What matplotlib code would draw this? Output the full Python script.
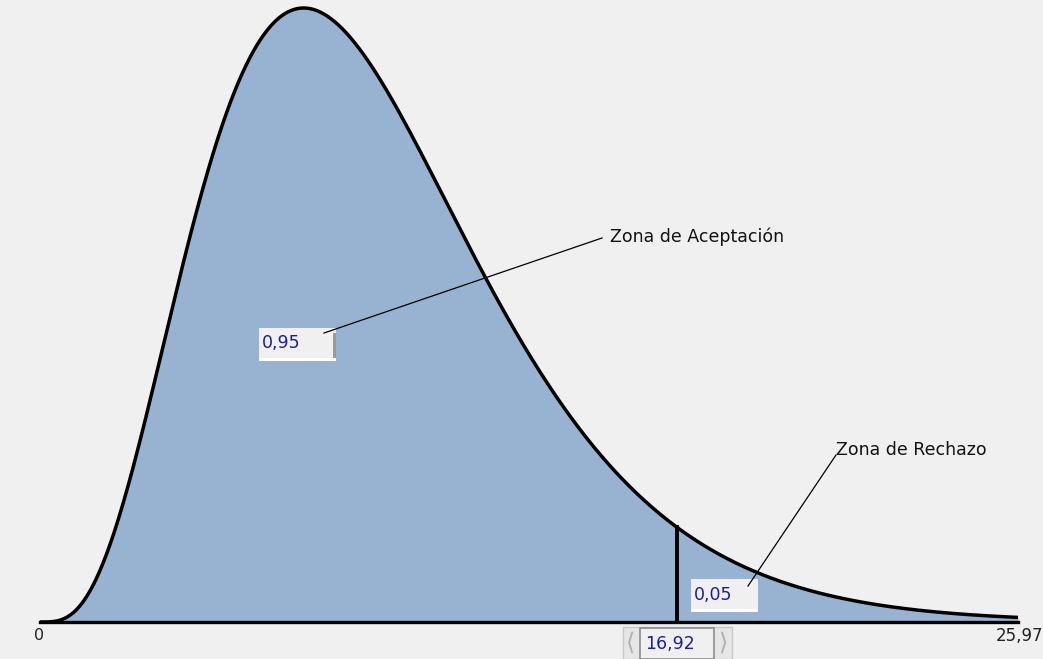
import math
import numpy as np
import matplotlib
matplotlib.use("Agg")
import matplotlib.pyplot as plt
from matplotlib.patches import Rectangle

# chart values
dof = 9
x_max = 25.97
critical = 16.92
p_accept = "0,95"
p_reject = "0,05"
label_left = "0"
label_right = "25,97"
label_crit = "16,92"
zone_accept = "Zona de Aceptación"
zone_reject = "Zona de Rechazo"

W, H = 1043, 659
BG = "#f0f0f0"
FILL = "#98b3d2"
NAVY = "#1c1ca0"
FS = 12.5


def chi2_pdf(x, k):
    x = np.asarray(x, dtype=float)
    out = np.zeros_like(x)
    m = x > 0
    out[m] = x[m] ** (k / 2 - 1) * np.exp(-x[m] / 2) / (2 ** (k / 2) * math.gamma(k / 2))
    return out


def fx(px):
    return px / W


def fy(py):
    return 1 - py / H


fig = plt.figure(figsize=(W / 100, H / 100), dpi=100, facecolor=BG)

xs = np.linspace(0, x_max, 800)
ys = chi2_pdf(xs, dof)
peak = ys.max()

ax = fig.add_axes([fx(40), fy(622), fx(1018) - fx(40), fy(8) - fy(622)])
ax.set_facecolor(BG)
ax.fill_between(xs, 0, ys, color=FILL, lw=0)
ax.plot(xs, ys, color="black", lw=2.5, clip_on=False, solid_capstyle="butt")
ax.plot([0, x_max], [0, 0], color="black", lw=2.4, clip_on=False)
ax.plot([critical, critical], [0, chi2_pdf([critical], dof)[0]], color="black", lw=2.8)
ax.set_xlim(0, x_max)
ax.set_ylim(0, peak)
ax.axis("off")

# axis end labels
fig.text(fx(39), fy(636), label_left, ha="center", va="center", fontsize=FS - 1, color="#222222",
         family="DejaVu Sans")
fig.text(fx(1043), fy(636), label_right, ha="right", va="center", fontsize=FS - 0.5, color="#222222",
         family="DejaVu Sans")


def value_box(x0, y0, x1, y1, text):
    fig.patches.append(Rectangle((fx(x0), fy(y1)), fx(x1) - fx(x0), fy(y0) - fy(y1),
                                 transform=fig.transFigure, facecolor=BG, edgecolor="none"))
    # bottom white strip
    fig.patches.append(Rectangle((fx(x0), fy(y1)), fx(x1) - fx(x0), fy(y1 - 3) - fy(y1),
                                 transform=fig.transFigure, facecolor="white", edgecolor="none"))
    fig.text(fx(x0 + 3), fy((y0 + y1) / 2 - 1), text, ha="left", va="center", fontsize=FS,
             color=NAVY, family="DejaVu Sans")


value_box(259, 328, 336, 361, p_accept)
fig.patches.append(Rectangle((fx(333), fy(358)), fx(336) - fx(333), fy(333) - fy(358),
                             transform=fig.transFigure, facecolor="#9a9a9a", edgecolor="none"))
value_box(691, 579, 758, 612, p_reject)

# critical value spinner
fig.patches.append(Rectangle((fx(623), fy(659)), fx(732) - fx(623), fy(627) - fy(659),
                             transform=fig.transFigure, facecolor="#e6e6e6", edgecolor="#c8c8c8", lw=1))
fig.patches.append(Rectangle((fx(640), fy(659)), fx(714) - fx(640), fy(628) - fy(659),
                             transform=fig.transFigure, facecolor=BG, edgecolor="#8c8c8c", lw=1.2))
fig.text(fx(670), fy(644), label_crit, ha="center", va="center", fontsize=FS, color=NAVY,
         family="DejaVu Sans")
fig.text(fx(631), fy(643), "\u27e8", ha="center", va="center", fontsize=17, color="#b0b0b0")
fig.text(fx(723), fy(643), "\u27e9", ha="center", va="center", fontsize=17, color="#b0b0b0")

# leader lines and zone labels
fig.add_artist(plt.Line2D([fx(324), fx(602)], [fy(333), fy(238)], color="black", lw=0.9))
fig.text(fx(610), fy(237), zone_accept, ha="left", va="center", fontsize=FS, color="#111111",
         family="DejaVu Sans")
fig.add_artist(plt.Line2D([fx(748), fx(836)], [fy(586), fy(455)], color="black", lw=0.9))
fig.text(fx(836), fy(450), zone_reject, ha="left", va="center", fontsize=FS, color="#111111",
         family="DejaVu Sans")

fig.savefig("out.png", dpi=100, facecolor=BG)
